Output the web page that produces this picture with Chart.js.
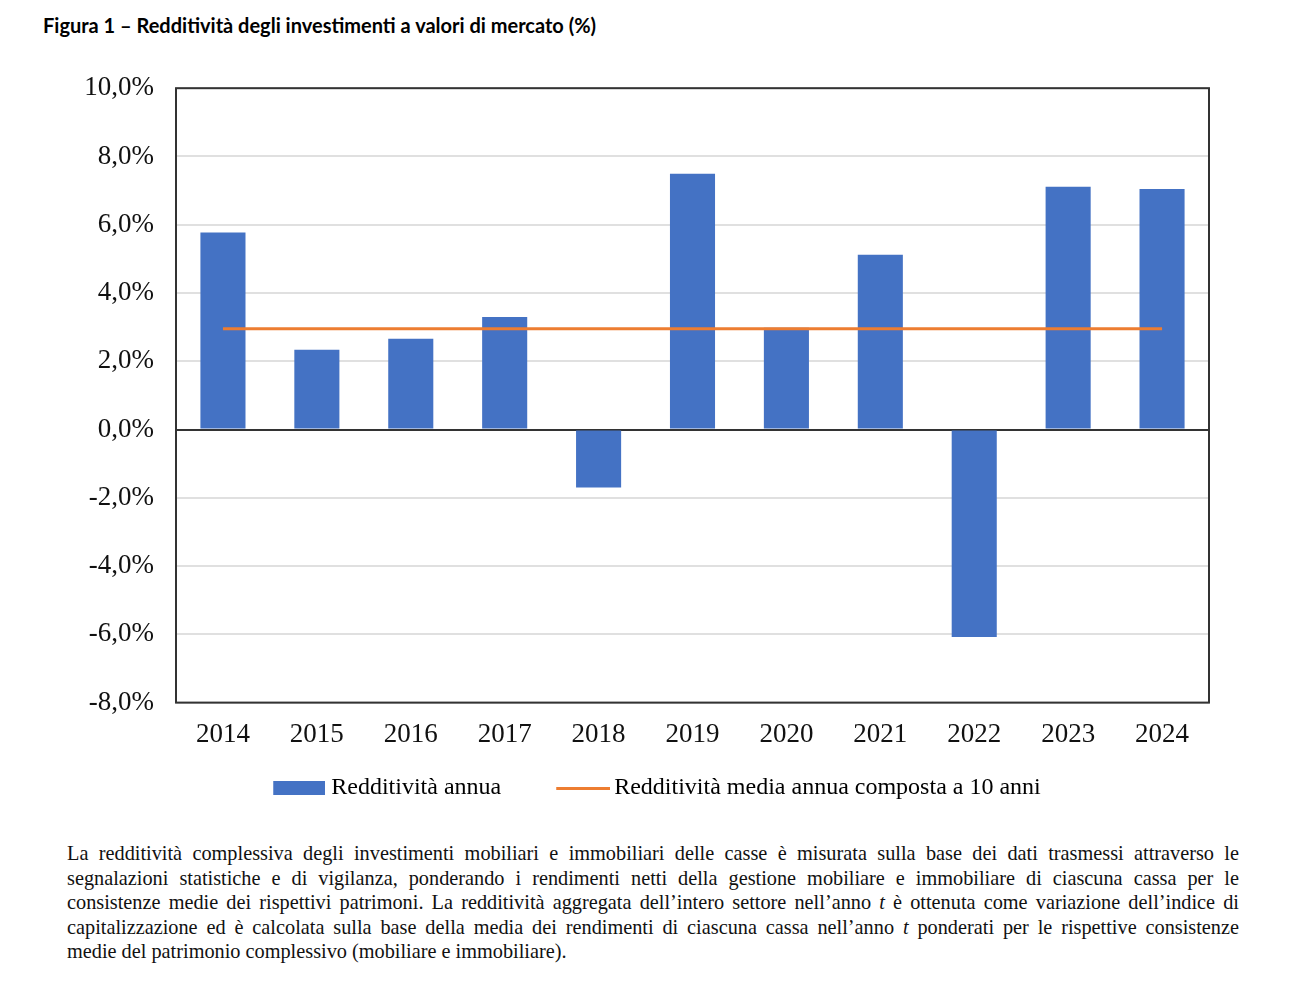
<!DOCTYPE html>
<html>
<head>
<meta charset="utf-8">
<script src="https://cdn.jsdelivr.net/npm/chart.js@4.4.1/dist/chart.umd.min.js"></script>
<style>
  body { margin: 0; background: #fff; width: 1298px; height: 984px; position: relative; overflow: hidden; }
  #title { position: absolute; left: 43px; top: 13px; font-family: Lato, sans-serif; font-weight: bold; font-size: 20px; color: #000; }
  #wrap { position: absolute; left: 0; top: 50px; width: 1298px; height: 770px; }
  #note { position: absolute; left: 67px; top: 841px; width: 1172px; font-family: "Liberation Serif", serif; font-size: 20.3px; line-height: 24.5px; color: #111; }
  #note div { text-align: justify; text-align-last: justify; white-space: nowrap; }
  #note div.last { text-align-last: left; }
</style>
</head>
<body>
<div id="title">Figura 1 – Redditività degli investimenti a valori di mercato (%)</div>
<div id="wrap"><canvas id="retChart"></canvas></div>
<div id="note">
  <div>La redditività complessiva degli investimenti mobiliari e immobiliari delle casse è misurata sulla base dei dati trasmessi attraverso le</div>
  <div>segnalazioni statistiche e di vigilanza, ponderando i rendimenti netti della gestione mobiliare e immobiliare di ciascuna cassa per le</div>
  <div>consistenze medie dei rispettivi patrimoni. La redditività aggregata dell’intero settore nell’anno <i>t</i> è ottenuta come variazione dell’indice di</div>
  <div>capitalizzazione ed è calcolata sulla base della media dei rendimenti di ciascuna cassa nell’anno <i>t</i> ponderati per le rispettive consistenze</div>
  <div class="last">medie del patrimonio complessivo (mobiliare e immobiliare).</div>
</div>
<script>
const years = ['2014', '2015', '2016', '2017', '2018', '2019', '2020', '2021', '2022', '2023', '2024'];
const annualReturn = [5.77, 2.34, 2.66, 3.30, -1.70, 7.49, 2.98, 5.12, -6.08, 7.11, 7.05];
const avgReturn10y = [2.95, 2.95, 2.95, 2.95, 2.95, 2.95, 2.95, 2.95, 2.95, 2.95, 2.95];
const seriesLabels = ['Redditività annua', 'Redditività media annua composta a 10 anni'];
const BLUE = '#4472C4', ORANGE = '#ED7D31';

// legend swatches as images: blank on the left, swatch hugging the text
function swatch(kind, color) {
  const c = document.createElement('canvas');
  const g = c.getContext('2d');
  if (kind === 'bar') {
    c.width = 103; c.height = 14;
    g.fillStyle = color;
    g.fillRect(51, 0, 52, 14);
  } else {
    c.width = 107; c.height = 14;
    g.fillStyle = color;
    g.fillRect(53, 6, 54, 3);
  }
  return c;
}

const boxPlugin = {
  id: 'box',
  afterDatasetsDraw(chart) {
    const a = chart.chartArea, ctx = chart.ctx;
    ctx.save();
    ctx.strokeStyle = '#333';
    ctx.lineWidth = 2;
    ctx.strokeRect(a.left, a.top, a.right - a.left, a.bottom - a.top);
    ctx.restore();
  }
};

const ctx = document.getElementById('retChart').getContext('2d');
new Chart(ctx, {
  type: 'bar',
  data: {
    labels: years,
    datasets: [
      {
        label: seriesLabels[0],
        data: annualReturn,
        backgroundColor: BLUE,
        barPercentage: 0.48,
        categoryPercentage: 1,
        order: 1
      },
      {
        type: 'line',
        label: seriesLabels[1],
        data: avgReturn10y,
        borderColor: ORANGE,
        backgroundColor: ORANGE,
        borderWidth: 3,
        pointRadius: 0,
        fill: false,
        order: 0
      }
    ]
  },
  options: {
    responsive: true,
    maintainAspectRatio: false,
    animation: false,
    layout: { padding: { left: 60, right: 89, top: 37, bottom: 10 } },
    scales: {
      x: {
        afterFit: s => { s.height = s.height + 7; },
        grid: { display: false },
        border: { display: false },
        ticks: { color: '#111', padding: 8, font: { family: 'Liberation Serif', size: 27 } }
      },
      y: {
        min: -8,
        max: 10,
        afterFit: s => { s.width = 116; },
        border: { display: false },
        grid: {
          drawTicks: false,
          color: c => (c.tick && c.tick.value === 0) ? '#333' : '#e0e0e0',
          lineWidth: 2
        },
        ticks: {
          stepSize: 2,
          padding: 22,
          color: '#111',
          font: { family: 'Liberation Serif', size: 27 },
          callback: v => v.toFixed(1).replace('.', ',') + '%'
        }
      }
    },
    plugins: {
      tooltip: { enabled: false },
      legend: {
        position: 'bottom',
        labels: {
          color: '#111',
          font: { family: 'Liberation Serif', size: 24 },
          usePointStyle: true,
          pointStyleWidth: 91,
          boxHeight: 14,
          padding: 10,
          generateLabels: chart => chart.data.datasets.map((d, i) => ({
            text: d.label,
            fillStyle: i === 0 ? BLUE : ORANGE,
            strokeStyle: i === 0 ? BLUE : ORANGE,
            lineWidth: 0,
            pointStyle: swatch(i === 0 ? 'bar' : 'line', i === 0 ? BLUE : ORANGE),
            datasetIndex: i,
            hidden: false
          }))
        }
      }
    }
  },
  plugins: [boxPlugin]
});
</script>
</body>
</html>
